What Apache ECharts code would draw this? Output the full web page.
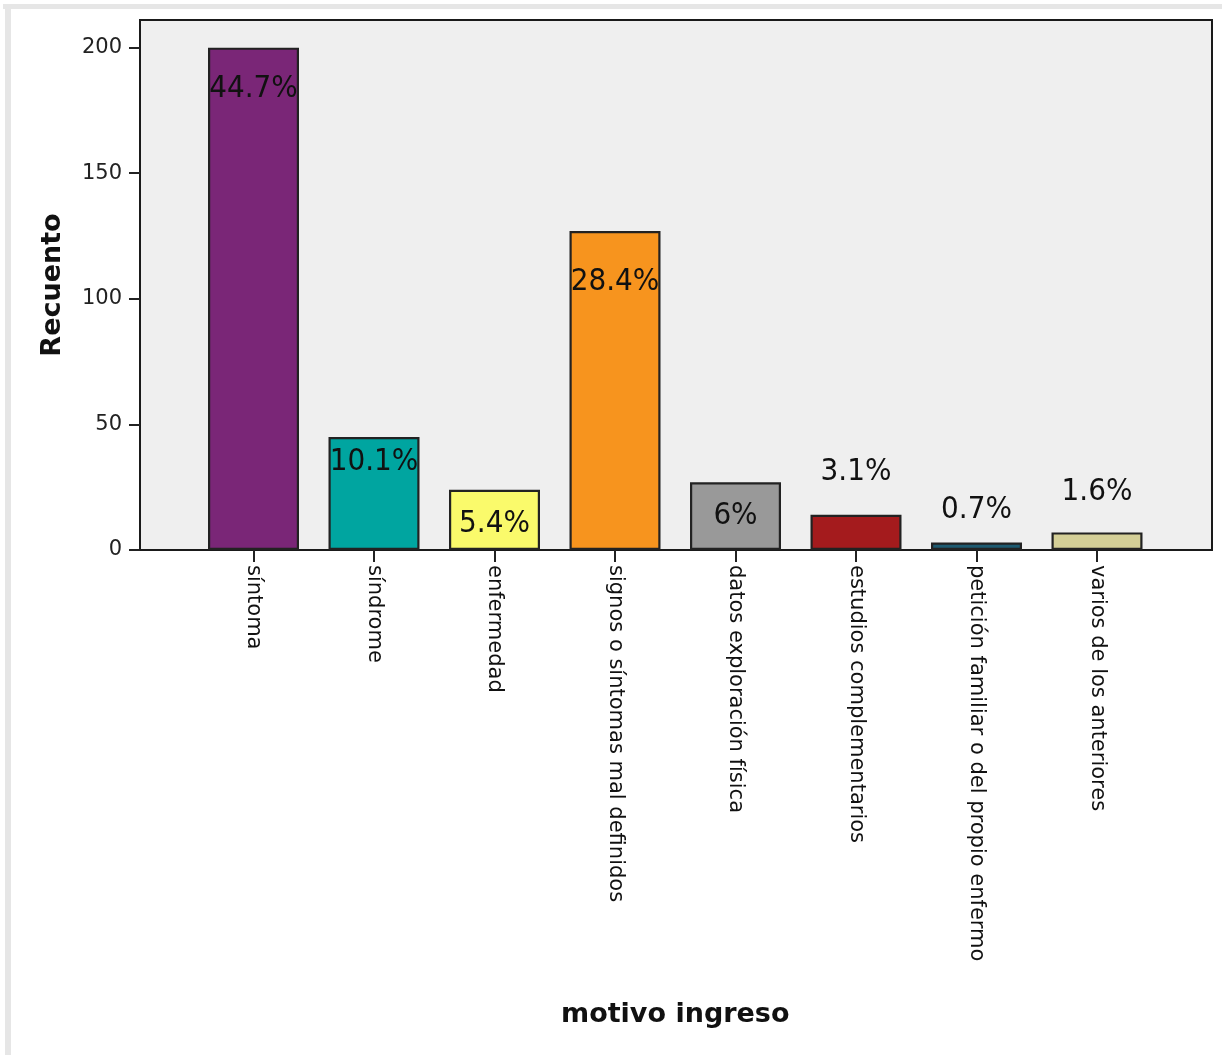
<!DOCTYPE html>
<html>
<head>
<meta charset="utf-8">
<title>motivo ingreso</title>
<script src="https://cdn.jsdelivr.net/npm/echarts@6/dist/echarts.min.js"></script>
<style>
  html, body { margin: 0; padding: 0; background: #ffffff; }
  #chart { width: 1222px; height: 1055px; }
</style>
</head>
<body>
<div id="chart"></div>
<script>
// Admission reasons (counts per category)
const categories = [
  'síntoma',
  'síndrome',
  'enfermedad',
  'signos o síntomas mal definidos',
  'datos exploración física',
  'estudios complementarios',
  'petición familiar o del propio enfermo',
  'varios de los anteriores'
];
const counts = [200, 45, 24, 127, 27, 14, 3, 7];
const yTicks = [0, 50, 100, 150, 200];

// Bar fills, one per category
const palette = ['#7a2677', '#00a5a0', '#fafa6b', '#f7941e', '#999999', '#a41b1d', '#1d5a70', '#d4cf97'];
// Vertical shift of each percentage label's centre from the bar top (px)
const labelShift = [41, 25, 34, 51, 34, -43, -33, -40];

const total = counts.reduce((a, b) => a + b, 0);
const pct = v => {
  const s = (v / total * 100).toFixed(1);
  return (s.endsWith('.0') ? s.slice(0, -2) : s) + '%';
};

const YMAX = 211;
const chart = echarts.init(document.getElementById('chart'), null, { renderer: 'canvas' });

chart.setOption({
  backgroundColor: '#ffffff',
  animation: false,
  graphic: [
    { type: 'rect', shape: { x: 3, y: 4, width: 1219, height: 5 }, style: { fill: '#e6e6e6' }, silent: true },
    { type: 'rect', shape: { x: 5, y: 4, width: 6, height: 1051 }, style: { fill: '#e6e6e6' }, silent: true }
  ],
  grid: [
    // framed plot area
    { left: 140, right: 10, top: 20, bottom: 505, show: true, backgroundColor: '#efefef', borderColor: '#1a1a1a', borderWidth: 2 },
    // band area holding the bars
    { left: 193.25, right: 64.75, top: 20, bottom: 505 }
  ],
  xAxis: [
    { type: 'value', gridIndex: 0, show: false, min: 0, max: 1 },
    {
      type: 'category', gridIndex: 1, data: categories,
      axisLine: { show: false },
      axisTick: { show: true, alignWithLabel: true, length: 12, lineStyle: { color: '#222', width: 2 } },
      axisLabel: {
        rotate: -90, margin: 15, fontSize: 21, fontFamily: 'DejaVu Sans', color: '#111', interval: 0,
        padding: [12, 0, 0, 0]
      },
      name: 'motivo ingreso', nameLocation: 'middle', nameGap: 451,
      nameTextStyle: { fontSize: 27, fontWeight: 'bold', fontFamily: 'DejaVu Sans', color: '#111' }
    }
  ],
  yAxis: [
    {
      type: 'value', gridIndex: 0, min: 0, max: YMAX, interval: 50,
      splitLine: { show: false },
      axisLine: { show: true, lineStyle: { color: '#1a1a1a', width: 2 } },
      axisTick: { show: true, length: 11, customValues: yTicks, lineStyle: { color: '#222', width: 2 } },
      axisLabel: {
        customValues: yTicks, margin: 18, fontSize: 21, fontFamily: 'DejaVu Sans', color: '#222',
        formatter: v => (v % 50 === 0 ? String(v) : '')
      },
      name: 'Recuento', nameLocation: 'middle', nameRotate: 90, nameGap: 74,
      nameTextStyle: { fontSize: 27, fontWeight: 'bold', fontFamily: 'DejaVu Sans', color: '#111' }
    },
    { type: 'value', gridIndex: 1, min: 0, max: YMAX, show: false, splitLine: { show: false } }
  ],
  series: [{
    type: 'bar',
    xAxisIndex: 1,
    yAxisIndex: 1,
    barWidth: 91,
    data: counts.map((v, i) => ({
      value: v,
      itemStyle: { color: palette[i] },
      label: { offset: [0, labelShift[i]] }
    })),
    itemStyle: { borderColor: '#222', borderWidth: 2.2 },
    label: {
      show: true,
      position: ['50%', 0],
      align: 'center',
      verticalAlign: 'middle',
      formatter: p => pct(p.value),
      fontSize: 31,
      fontFamily: '"DejaVu Sans Condensed", "DejaVu Sans", sans-serif',
      color: '#111'
    }
  }]
});
</script>
</body>
</html>
